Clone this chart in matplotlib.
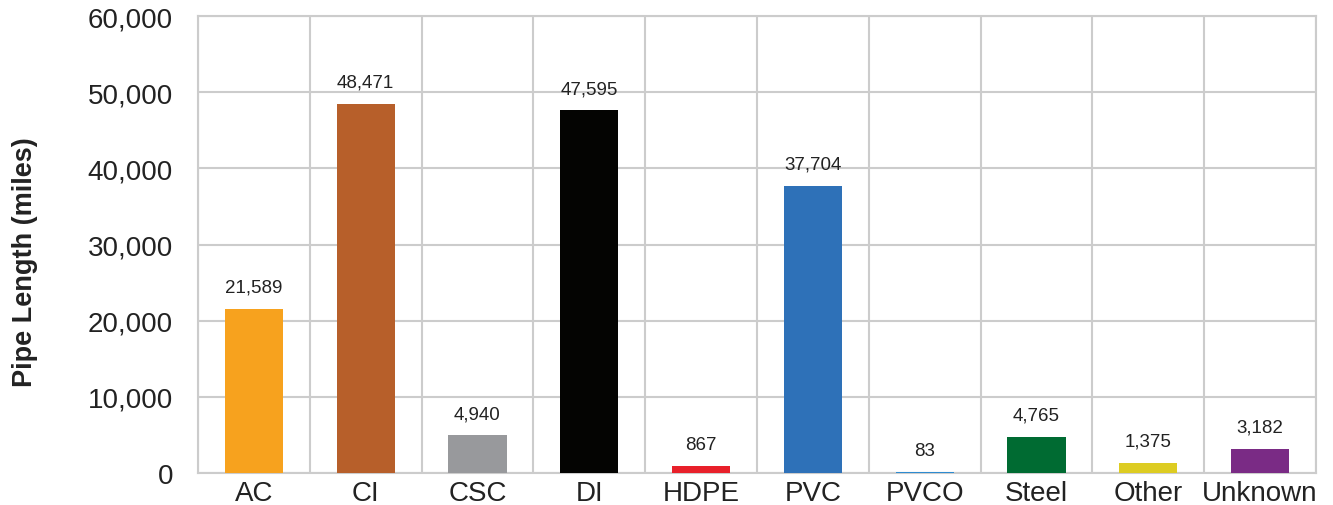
import numpy as np
import matplotlib
matplotlib.use('Agg')
import matplotlib.pyplot as plt
from matplotlib.ticker import FuncFormatter, MultipleLocator

plt.rcParams['font.family'] = ['Liberation Sans', 'DejaVu Sans']

materials = ['AC', 'CI', 'CSC', 'DI', 'HDPE', 'PVC', 'PVCO', 'Steel', 'Other', 'Unknown']
lengths = [21589, 48471, 4940, 47595, 867, 37704, 83, 4765, 1375, 3182]
colors = ['#F7A21E', '#B75F2A', '#98999C', '#040402', '#E8202A',
          '#2E71B8', '#2E8BD0', '#006B32', '#DDCC22', '#7A2B85']

fig = plt.figure(figsize=(13.33, 5.06), dpi=100)
ax = fig.add_axes([0.1485, 0.0632, 0.8387, 0.9032])

x = np.arange(len(materials))
bars = ax.bar(x, lengths, width=0.52, color=colors, zorder=3)

for xi, v in zip(x, lengths):
    ax.text(xi, v + 1700, f'{v:,}', ha='center', va='bottom',
            fontsize=13.5, color='#222222')

grid_c = '#cccccc'
ax.set_xlim(-0.5, len(materials) - 0.5)
ax.set_ylim(0, 60000)
ax.yaxis.set_major_locator(MultipleLocator(10000))
ax.yaxis.set_major_formatter(FuncFormatter(lambda v, p: f'{int(v):,}'))
ax.set_xticks(x)
ax.set_xticklabels(materials)
ax.set_xticks(np.arange(-0.5, len(materials)), minor=True)
ax.grid(axis='y', which='major', color=grid_c, lw=1.5, zorder=0)
ax.grid(axis='x', which='minor', color=grid_c, lw=1.5, zorder=0)
ax.tick_params(axis='both', which='both', length=0, labelsize=20,
               colors='#222222')
ax.tick_params(axis='y', pad=18)
ax.tick_params(axis='x', pad=5)
for s in ax.spines.values():
    s.set_color(grid_c)
    s.set_linewidth(1.5)

ax.set_ylabel('Pipe Length (miles)', fontsize=19.5, fontweight='bold',
              color='#222222')
ax.yaxis.set_label_coords(-0.143, 0.464)

fig.savefig('out.png', dpi=100)
